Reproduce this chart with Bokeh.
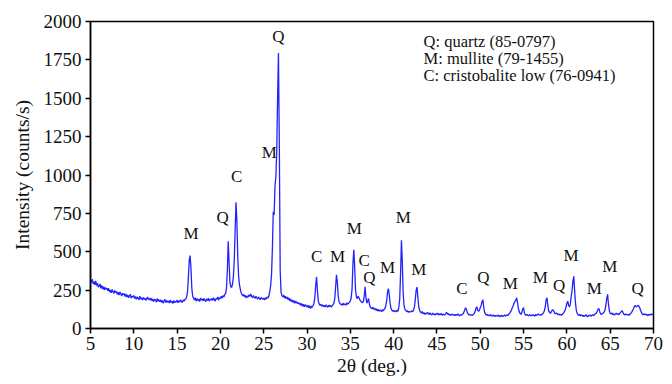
from bokeh.plotting import figure
from bokeh.models import Range1d, FixedTicker, ColumnDataSource
from bokeh.core.properties import value
from bokeh.embed import file_html
from bokeh.resources import INLINE

# ---- data (2theta step 0.1 deg, from 5.0) ----
r05 = [315, 300, 322, 290, 305, 285, 310, 280, 295, 270]
r06 = [275, 290, 262, 280, 258, 272, 250, 268, 255, 262]
r07 = [245, 262, 238, 250, 232, 255, 240, 228, 248, 235]
r08 = [242, 222, 236, 218, 238, 225, 212, 230, 220, 226]
r09 = [208, 225, 205, 218, 200, 214, 222, 198, 210, 205]
r10 = [215, 195, 208, 190, 205, 198, 186, 210, 192, 200]
r11 = [185, 202, 190, 198, 182, 195, 205, 188, 196, 184]
r12 = [198, 180, 192, 176, 190, 185, 172, 195, 178, 188]
r13 = [175, 188, 170, 183, 165, 180, 190, 168, 182, 172]
r14 = [180, 166, 185, 170, 178, 162, 182, 168, 176, 172]
r15 = [185, 168, 180, 172, 188, 175, 170, 186, 178, 190]
r16 = [192, 205, 240, 330, 445, 475, 390, 260, 210, 198]
r17 = [185, 200, 178, 195, 182, 190, 176, 198, 185, 192]
r18 = [180, 196, 185, 175, 192, 183, 198, 178, 190, 186]
r19 = [195, 182, 200, 188, 178, 196, 190, 205, 186, 200]
r20 = [195, 210, 198, 215, 205, 222, 228, 262, 380, 568]
r21 = [430, 300, 272, 268, 290, 340, 450, 640, 823, 700]
r22 = [470, 340, 285, 255, 232, 220, 212, 222, 205, 215]
r23 = [198, 212, 205, 220, 208, 225, 210, 200, 215, 203]
r24 = [196, 210, 200, 192, 206, 195, 188, 202, 196, 190]
r25 = [198, 186, 200, 192, 205, 198, 215, 240, 280, 350]
r26 = [520, 760, 740, 930, 985, 1150, 1500, 1795, 1200, 380]
r27 = [235, 215, 205, 218, 198, 210, 195, 205, 188, 200]
r28 = [180, 192, 175, 185, 170, 182, 165, 178, 170, 162]
r29 = [170, 158, 165, 150, 162, 145, 158, 142, 155, 148]
r30 = [140, 152, 135, 148, 130, 145, 138, 150, 165, 200]
r31 = [280, 336, 250, 180, 160, 150, 158, 145, 155, 142]
r32 = [150, 140, 155, 145, 138, 152, 142, 150, 140, 148]
r33 = [155, 165, 195, 270, 350, 300, 210, 175, 162, 155]
r34 = [160, 150, 165, 155, 160, 152, 168, 158, 165, 172]
r35 = [180, 200, 260, 420, 513, 400, 250, 205, 195, 210]
r36 = [200, 185, 180, 172, 168, 175, 210, 271, 200, 165]
r37 = [180, 195, 160, 140, 135, 128, 138, 125, 132, 120]
r38 = [128, 115, 125, 112, 120, 118, 110, 122, 115, 125]
r39 = [130, 150, 185, 240, 260, 215, 160, 130, 120, 112]
r40 = [118, 110, 115, 108, 120, 112, 140, 190, 360, 574]
r41 = [430, 230, 150, 125, 118, 110, 116, 105, 112, 108]
r42 = [108, 115, 110, 122, 140, 190, 250, 270, 200, 140]
r43 = [118, 108, 100, 110, 96, 104, 92, 100, 95, 105]
r44 = [98, 90, 102, 94, 88, 100, 92, 96, 86, 98]
r45 = [92, 100, 88, 95, 90, 98, 86, 94, 90, 88]
r46 = [95, 105, 98, 90, 96, 85, 92, 88, 94, 86]
r47 = [90, 84, 92, 86, 95, 88, 82, 90, 86, 92]
r48 = [95, 105, 120, 135, 125, 105, 95, 88, 92, 86]
r49 = [90, 85, 92, 98, 110, 130, 142, 118, 112, 120]
r50 = [135, 150, 175, 188, 140, 105, 95, 88, 92, 84]
r51 = [88, 82, 90, 85, 80, 88, 83, 78, 86, 82]
r52 = [80, 88, 76, 84, 80, 86, 78, 82, 88, 80]
r53 = [85, 90, 84, 95, 100, 110, 120, 135, 148, 165]
r54 = [175, 185, 200, 170, 130, 110, 98, 92, 105, 128]
r55 = [135, 100, 90, 85, 92, 86, 82, 90, 84, 88]
r56 = [82, 90, 86, 80, 92, 85, 88, 95, 90, 86]
r57 = [92, 88, 96, 102, 115, 140, 185, 200, 150, 115]
r58 = [105, 98, 110, 118, 122, 112, 100, 95, 102, 96]
r59 = [90, 95, 88, 92, 86, 95, 100, 108, 120, 140]
r60 = [165, 178, 150, 140, 160, 210, 250, 310, 340, 240]
r61 = [160, 115, 98, 90, 85, 92, 82, 88, 80, 86]
r62 = [78, 84, 90, 80, 76, 86, 82, 88, 80, 85]
r63 = [90, 84, 92, 96, 100, 112, 125, 130, 108, 95]
r64 = [92, 98, 100, 108, 120, 150, 195, 222, 160, 115]
r65 = [100, 95, 102, 90, 96, 88, 94, 100, 92, 96]
r66 = [90, 98, 105, 112, 115, 100, 92, 88, 95, 90]
r67 = [88, 92, 86, 95, 100, 108, 118, 130, 145, 150]
r68 = [140, 145, 150, 148, 135, 120, 105, 95, 90, 96]
r69 = [88, 95, 90, 84, 92, 86, 94, 88, 95, 90]
r70 = [92]

rows = [r05, r06, r07, r08, r09, r10, r11, r12, r13, r14, r15, r16, r17, r18,
        r19, r20, r21, r22, r23, r24, r25, r26, r27, r28, r29, r30, r31, r32,
        r33, r34, r35, r36, r37, r38, r39, r40, r41, r42, r43, r44, r45, r46,
        r47, r48, r49, r50, r51, r52, r53, r54, r55, r56, r57, r58, r59, r60,
        r61, r62, r63, r64, r65, r66, r67, r68, r69, r70]
intensity = [v for r in rows for v in r]
two_theta = [round(5 + 0.1 * i, 1) for i in range(len(intensity))]

# phase labels above the peaks
label_text = ["M", "Q", "C", "M", "Q", "C", "M", "M", "C", "Q", "M",
              "M", "M", "C", "Q", "M", "M", "Q", "M", "M", "M", "Q"]
label_x = [16.60, 20.26, 21.88, 25.64, 26.68, 31.11, 33.51, 35.45, 36.61,
           37.19, 39.31, 41.11, 42.89, 47.89, 50.35, 53.47, 56.93, 59.12,
           60.47, 63.16, 64.97, 68.17]
label_y = [618, 722, 992, 1144, 1900, 466, 470, 654, 444, 330, 400,
           724, 384, 260, 335, 293, 335, 282, 477, 260, 405, 260]

legend_lines = ["Q: quartz (85-0797)", "M: mullite (79-1455)",
                "C: cristobalite low (76-0941)"]
legend_x = [43.45, 43.45, 43.45]
legend_y = [1868, 1757, 1646]

x_ticks = list(range(5, 71, 5))
y_ticks = list(range(0, 2001, 250))

FONT = "Liberation Serif"

p = figure(width=672, height=384, output_backend="svg", toolbar_location=None,
           x_range=Range1d(5, 70), y_range=Range1d(0, 2000))
p.min_border_left = 90
p.min_border_right = 19
p.min_border_top = 21
p.min_border_bottom = 56
p.background_fill_color = "white"
p.border_fill_color = "white"
p.outline_line_color = "black"
p.outline_line_width = 1.5
p.grid.visible = False

p.line(two_theta, intensity, line_color="#2222ff", line_width=1.3)

src = ColumnDataSource(dict(x=label_x, y=label_y, t=label_text))
p.text(x="x", y="y", text="t", source=src, text_font=value(FONT),
       text_font_size="17px", text_align="center", text_baseline="middle",
       text_color="#111111")

lsrc = ColumnDataSource(dict(x=legend_x, y=legend_y, t=legend_lines))
p.text(x="x", y="y", text="t", source=lsrc, text_font=value(FONT),
       text_font_size="16.5px", text_align="left", text_baseline="middle",
       text_color="#111111")

for ax in (p.xaxis[0], p.yaxis[0]):
    ax.axis_line_color = "black"
    ax.axis_line_width = 1.5
    ax.major_tick_line_color = "black"
    ax.major_tick_line_width = 1.5
    ax.major_tick_out = 5
    ax.major_tick_in = 0
    ax.minor_tick_line_color = None
    ax.major_label_text_font = FONT
    ax.major_label_text_font_size = "19px"
    ax.major_label_text_color = "#111111"
    ax.axis_label_text_font = FONT
    ax.axis_label_text_font_size = "19.5px"
    ax.axis_label_text_font_style = "normal"
    ax.axis_label_text_color = "#111111"

p.xaxis.ticker = FixedTicker(ticks=x_ticks)
p.yaxis.ticker = FixedTicker(ticks=y_ticks)
p.xaxis.axis_label = "2θ (deg.)"
p.yaxis.axis_label = "Intensity (counts/s)"
p.xaxis.major_label_standoff = 3
p.yaxis.major_label_standoff = 4
p.xaxis.axis_label_standoff = 2
p.yaxis.axis_label_standoff = 8

open("out.html", "w").write(file_html(p, INLINE))
